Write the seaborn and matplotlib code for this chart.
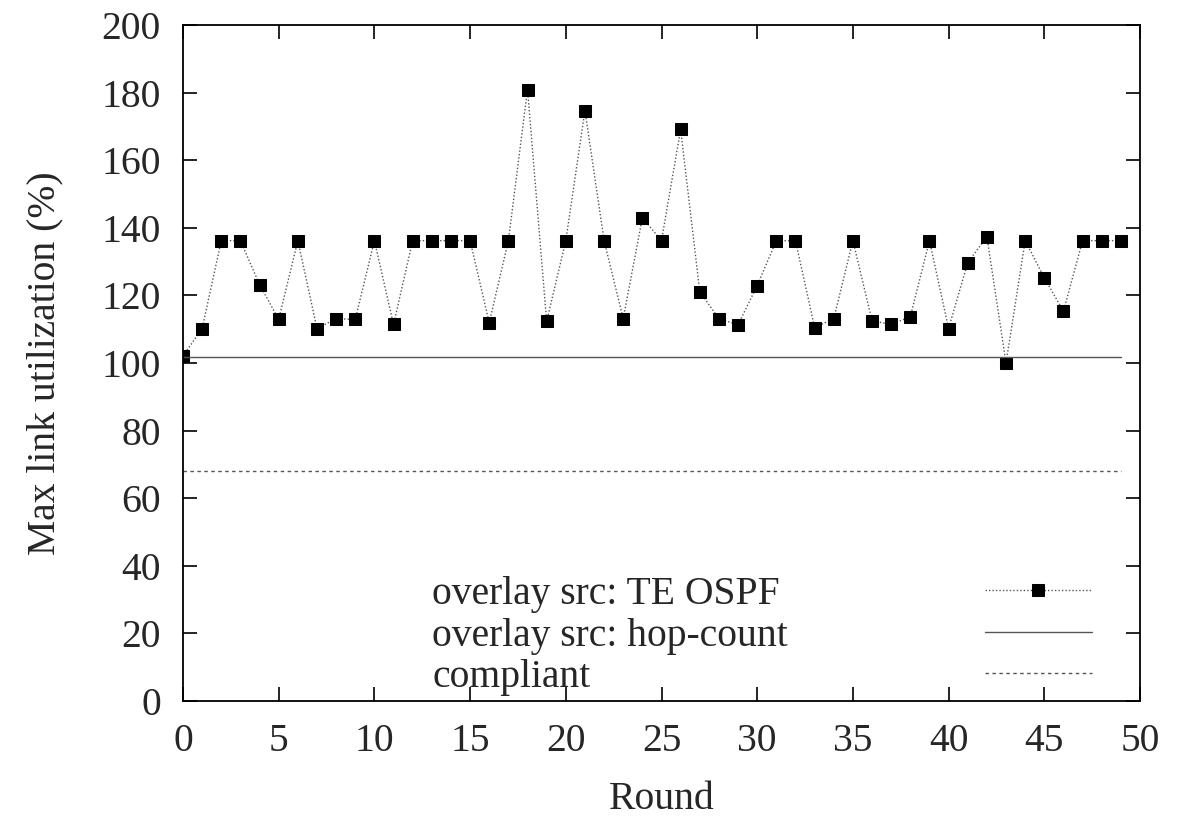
import numpy as np
import pandas as pd
import matplotlib
matplotlib.use("Agg")
import matplotlib.pyplot as plt
import seaborn as sns

# values
rounds = list(range(50))
te_ospf = [102.1, 110.2, 136.2, 136.2, 123.2, 112.9, 136.2, 110.2, 113.1, 112.9,
           136.2, 111.4, 136.2, 136.2, 136.2, 136.2, 111.9, 136.2, 180.9, 112.3,
           136.2, 174.7, 136.2, 113.1, 143.0, 136.2, 169.1, 121.1, 113.1, 111.3,
           122.9, 136.2, 136.2, 110.5, 113.1, 136.2, 112.5, 111.4, 113.7, 136.2,
           110.2, 129.7, 137.4, 100.0, 136.2, 125.2, 115.3, 136.2, 136.2, 136.2]
hop_count_level = 101.9
compliant_level = 68.1
labels = ["overlay src: TE OSPF", "overlay src: hop-count", "compliant"]

df = pd.DataFrame({
    "round": rounds,
    "te": te_ospf,
    "hop": [hop_count_level] * len(rounds),
    "compliant": [compliant_level] * len(rounds),
})

sns.set_style("ticks")
plt.rcParams["font.family"] = ["Liberation Serif", "DejaVu Serif"]

fs = 28.5
fig = plt.figure(figsize=(11.84, 8.19), dpi=100)
ax = fig.add_axes([183 / 1184, 1 - 701 / 819, (1140 - 183) / 1184, (701 - 25) / 819])

gray = "#555555"
sns.lineplot(data=df, x="round", y="te", ax=ax, color=gray, linestyle=(0, (1, 1.5)),
             linewidth=1.0, marker="s", markersize=9, markerfacecolor="black",
             markeredgecolor="black", label=labels[0])
sns.lineplot(data=df, x="round", y="hop", ax=ax, color=gray, linewidth=1.0,
             label=labels[1])
sns.lineplot(data=df, x="round", y="compliant", ax=ax, color=gray,
             linestyle=(0, (2.5, 2.5)), linewidth=1.0, label=labels[2])

ax.set_xlim(0, 50)
ax.set_ylim(0, 200)
ax.set_xticks(np.arange(0, 51, 5))
ax.set_yticks(np.arange(0, 201, 20))
ax.tick_params(direction="in", length=10, width=1.2, labelsize=fs,
               top=True, right=True, pad=16, color="black")
for s in ax.spines.values():
    s.set_linewidth(1.3)
    s.set_color("black")

ax.set_xlabel("Round", fontsize=fs, labelpad=15)
ax.set_ylabel("Max link utilization (%)", fontsize=fs, labelpad=27)

# gnuplot-style key: left-aligned labels, samples in a column on the right
handles, _ = ax.get_legend_handles_labels()
ax.get_legend().remove()
common = dict(loc="lower left", frameon=False, fontsize=fs, labelspacing=0.12,
              borderaxespad=0, borderpad=0, markerfirst=True)
leg_txt = ax.legend(handles, labels, bbox_to_anchor=((432 - 183) / 957, 0.007),
                    handlelength=0, handletextpad=0, **common)
for h in leg_txt.legend_handles:
    h.set_visible(False)
ax.add_artist(leg_txt)
leg_h = ax.legend(handles, [" "] * len(labels), bbox_to_anchor=((985 - 183) / 957, 0.007),
                  handlelength=2.7, handletextpad=0, **common)
for h in leg_h.legend_handles:
    h.set_markersize(8)

fig.savefig("out.png", dpi=100)
